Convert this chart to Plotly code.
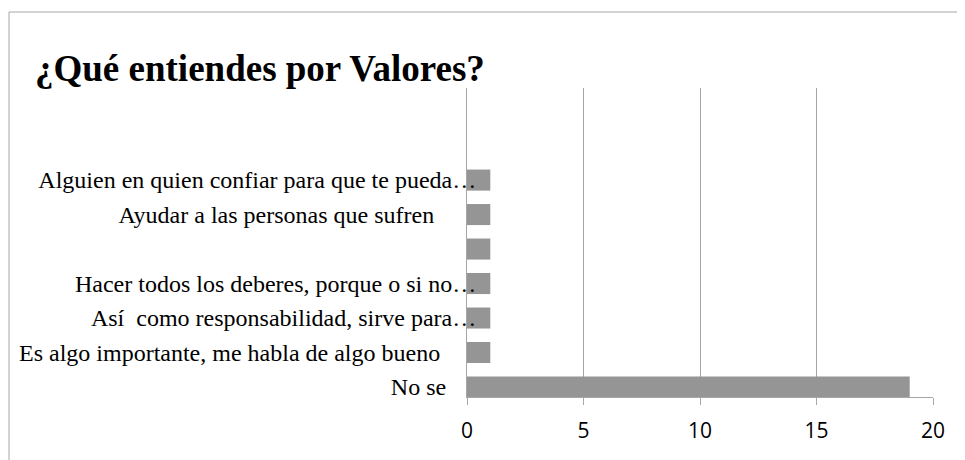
"""Bar chart: ¿Qué entiendes por Valores?"""

import plotly.graph_objects as go

TITLE = "¿Qué entiendes por Valores?"

# bottom to top, as on the chart
categories = [
    "No se     ",
    "Es algo importante, me habla de algo bueno      ",
    "Así  como responsabilidad, sirve para…",
    "Hacer todos los deberes, porque o si no…",
    " ",
    "Ayudar a las personas que sufren       ",
    "Alguien en quien confiar para que te pueda…",
]
counts = [19, 1, 1, 1, 1, 1, 1]

x_ticks = [0, 5, 10, 15, 20]

# page body has an 8px margin, so everything is placed 8px up/left
OFF = 8
W, H = 965, 460
L, R, T, B = 467 - OFF, W - (933 - OFF), 88 - OFF, H - (397 - OFF)

labels = [c.replace(" ", "\u00a0") for c in categories]

fig = go.Figure(go.Bar(
    x=counts,
    y=list(range(len(categories))),
    orientation="h",
    width=0.61,
    marker=dict(color="#959595", line=dict(width=0)),
    hoverinfo="skip",
))

pw = W - L - R
ph = H - T - B
top_y = (H - B - (12 - OFF)) / ph
left_x = ((9 - OFF) - L) / pw
fig.update_layout(
    width=W, height=H,
    margin=dict(l=L, r=R, t=T, b=B, autoexpand=False),
    paper_bgcolor="white",
    plot_bgcolor="white",
    showlegend=False,
    title=dict(text=f"<b>{TITLE}</b>", x=(35 - OFF) / W, xanchor="left",
               y=1 - (68 - OFF) / H, yanchor="middle",
               font=dict(family="Liberation Serif", size=37, color="black")),
    shapes=[
        dict(type="line", xref="paper", yref="paper",
             x0=left_x, x1=(W - L) / pw, y0=top_y, y1=top_y,
             line=dict(color="#a6a6a6", width=1)),
        dict(type="line", xref="paper", yref="paper",
             x0=left_x, x1=left_x, y0=top_y, y1=-B / ph,
             line=dict(color="#a6a6a6", width=1)),
    ],
)

fig.update_xaxes(
    range=[0, 20], tickvals=x_ticks,
    showgrid=True, gridcolor="#a6a6a6", gridwidth=1,
    showline=True, linecolor="#a6a6a6", linewidth=1,
    ticks="outside", ticklen=7, tickcolor="#a6a6a6",
    ticklabelstandoff=8, automargin=False,
    tickfont=dict(family="Open Sans", size=21, color="black"),
    zeroline=False, fixedrange=True,
)
fig.update_yaxes(
    range=[-0.29, 8.67],
    tickvals=list(range(len(categories))), ticktext=labels,
    showgrid=False, zeroline=False,
    showline=True, linecolor="#a6a6a6", linewidth=1,
    ticks="", ticklabelstandoff=-15, automargin=False,
    tickfont=dict(family="Liberation Serif", size=24, color="black"),
    fixedrange=True,
)

fig.write_html("out.html")
